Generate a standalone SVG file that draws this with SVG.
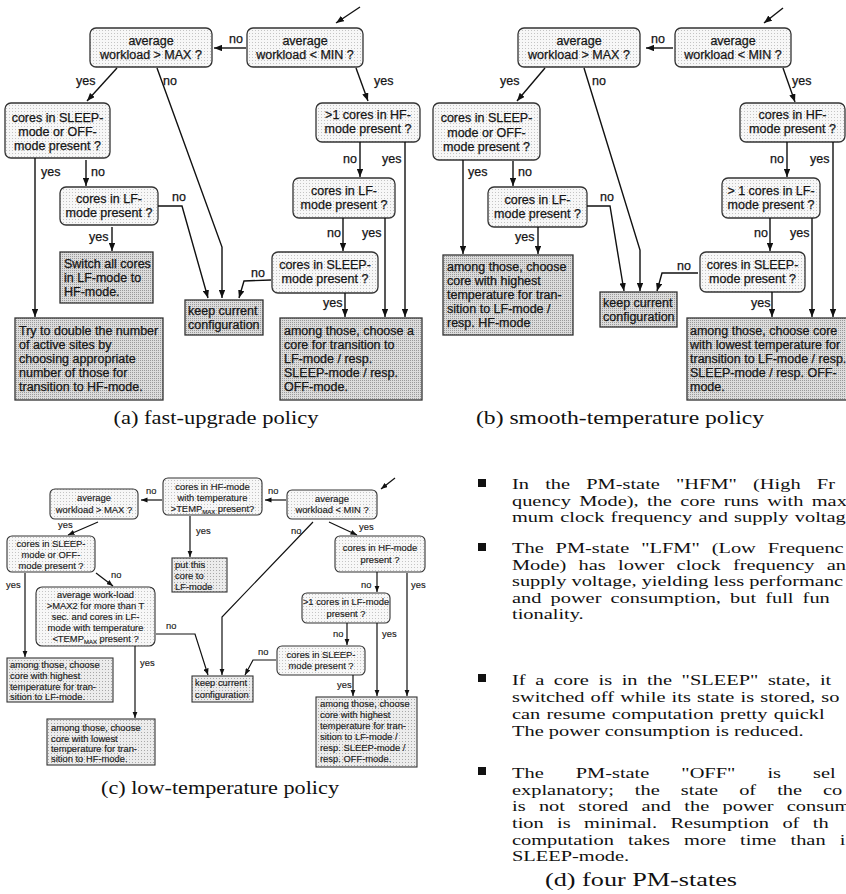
<svg xmlns="http://www.w3.org/2000/svg" width="846" height="894" viewBox="0 0 846 894">
<defs>
<style>
.q{fill:url(#pl);stroke:#333;stroke-width:1.3}
.a{fill:url(#pd);stroke:#333;stroke-width:1.3}
.qc{fill:url(#pl);stroke:#333;stroke-width:1.1}
.ac{fill:url(#pm);stroke:#333;stroke-width:1.1}
.t{font-family:"Liberation Sans",Arial,sans-serif;font-size:12.5px;fill:#151515;stroke:#151515;stroke-width:0.25}
.m{text-anchor:middle}
.tc{font-family:"Liberation Sans",Arial,sans-serif;font-size:9.4px;fill:#1a1a1a;stroke:#1a1a1a;stroke-width:0.15}
.e{fill:none;stroke:#111;stroke-width:1.4;marker-end:url(#ah)}
.ec{fill:none;stroke:#111;stroke-width:1.2;marker-end:url(#ahs)}
.cap{font-family:"Liberation Serif","Times New Roman",serif;font-size:18px;fill:#111;text-anchor:middle}
.d{font-family:"Liberation Serif","Times New Roman",serif;font-size:15px;fill:#111}
</style>
<pattern id="pl" width="3" height="3" patternUnits="userSpaceOnUse"><rect width="3" height="3" fill="#f7f7f7"/><rect width="1" height="1" fill="#c4c4c4"/></pattern>
<pattern id="pd" width="2" height="2" patternUnits="userSpaceOnUse"><rect width="2" height="2" fill="#dcdcdc"/><rect width="1" height="1" fill="#9a9a9a"/></pattern>
<pattern id="pm" width="3" height="3" patternUnits="userSpaceOnUse"><rect width="3" height="3" fill="#ececec"/><rect width="1" height="1" fill="#a8a8a8"/></pattern>
<marker id="ah" viewBox="0 0 10 8" refX="10" refY="4" markerWidth="8" markerHeight="6.4" orient="auto" markerUnits="userSpaceOnUse"><path d="M0,0 L10,4 L0,8 z" fill="#111"/></marker>
<marker id="ahs" viewBox="0 0 10 8" refX="10" refY="4" markerWidth="6.5" markerHeight="5.2" orient="auto" markerUnits="userSpaceOnUse"><path d="M0,0 L10,4 L0,8 z" fill="#111"/></marker>
</defs>
<rect width="846" height="894" fill="#fff"/>

<!-- (a) fast-upgrade policy -->
<g id="a-q0"><rect class="q" x="247" y="28" width="116" height="39" rx="6"/><text class="t m"><tspan x="305" y="45">average</tspan><tspan x="305" y="59">workload &lt; MIN ?</tspan></text></g>
<g id="a-q1"><rect class="q" x="90" y="28" width="122" height="39" rx="6"/><text class="t m"><tspan x="151" y="45">average</tspan><tspan x="151" y="59">workload &gt; MAX ?</tspan></text></g>
<g id="a-q2"><rect class="q" x="5" y="103" width="105" height="55" rx="6"/><text class="t m"><tspan x="57.5" y="122">cores in SLEEP-</tspan><tspan x="57.5" y="136">mode or OFF-</tspan><tspan x="57.5" y="150">mode present ?</tspan></text></g>
<g id="a-q3"><rect class="q" x="60" y="187" width="98" height="38" rx="6"/><text class="t m"><tspan x="109" y="203">cores in LF-</tspan><tspan x="109" y="217">mode present ?</tspan></text></g>
<g id="a-r1"><rect class="a" x="60" y="252" width="93" height="51"/><text class="t"><tspan x="64" y="268">Switch all cores</tspan><tspan x="64" y="282">in LF-mode to</tspan><tspan x="64" y="296">HF-mode.</tspan></text></g>
<g id="a-r2"><rect class="a" x="185" y="300" width="78" height="35"/><text class="t"><tspan x="188" y="315">keep current</tspan><tspan x="188" y="329">configuration</tspan></text></g>
<g id="a-r3"><rect class="a" x="15" y="318" width="148" height="82"/><text class="t"><tspan x="19" y="335">Try to double the number</tspan><tspan x="19" y="349">of active sites by</tspan><tspan x="19" y="363">choosing appropriate</tspan><tspan x="19" y="377">number of those for</tspan><tspan x="19" y="391">transition to HF-mode.</tspan></text></g>
<g id="a-q4"><rect class="q" x="316" y="103" width="104" height="39" rx="6"/><text class="t m"><tspan x="368" y="119">&gt;1 cores in HF-</tspan><tspan x="368" y="133">mode present ?</tspan></text></g>
<g id="a-q5"><rect class="q" x="293" y="178" width="102" height="40" rx="6"/><text class="t m"><tspan x="344" y="195">cores in LF-</tspan><tspan x="344" y="209">mode present ?</tspan></text></g>
<g id="a-q6"><rect class="q" x="272" y="252" width="106" height="41" rx="6"/><text class="t m"><tspan x="325" y="269">cores in SLEEP-</tspan><tspan x="325" y="283">mode present ?</tspan></text></g>
<g id="a-r4"><rect class="a" x="280" y="318" width="142" height="82"/><text class="t"><tspan x="284" y="335">among those, choose a</tspan><tspan x="284" y="349">core for transition to</tspan><tspan x="284" y="363">LF-mode / resp.</tspan><tspan x="284" y="377">SLEEP-mode / resp.</tspan><tspan x="284" y="391">OFF-mode.</tspan></text></g>

<!-- (b) smooth-temperature policy -->
<g id="b-q0"><rect class="q" x="675" y="28" width="116" height="39" rx="6"/><text class="t m"><tspan x="733" y="45">average</tspan><tspan x="733" y="59">workload &lt; MIN ?</tspan></text></g>
<g id="b-q1"><rect class="q" x="518" y="28" width="122" height="39" rx="6"/><text class="t m"><tspan x="579" y="45">average</tspan><tspan x="579" y="59">workload &gt; MAX ?</tspan></text></g>
<g id="b-q2"><rect class="q" x="433" y="103" width="107" height="57" rx="6"/><text class="t m"><tspan x="486.5" y="122">cores in SLEEP-</tspan><tspan x="486.5" y="137">mode or OFF-</tspan><tspan x="486.5" y="151">mode present ?</tspan></text></g>
<g id="b-q3"><rect class="q" x="488" y="187" width="99" height="40" rx="6"/><text class="t m"><tspan x="537.5" y="204">cores in LF-</tspan><tspan x="537.5" y="218">mode present ?</tspan></text></g>
<g id="b-r1"><rect class="a" x="443" y="255" width="130" height="80"/><text class="t"><tspan x="447" y="271">among those, choose</tspan><tspan x="447" y="285">core with highest</tspan><tspan x="447" y="299">temperature for tran-</tspan><tspan x="447" y="313">sition to LF-mode /</tspan><tspan x="447" y="327">resp. HF-mode</tspan></text></g>
<g id="b-r2"><rect class="a" x="600" y="292" width="77" height="35"/><text class="t"><tspan x="603" y="307">keep current</tspan><tspan x="603" y="321">configuration</tspan></text></g>
<g id="b-q4"><rect class="q" x="740" y="103" width="105" height="39" rx="6"/><text class="t m"><tspan x="792.5" y="119">cores in HF-</tspan><tspan x="792.5" y="133">mode present ?</tspan></text></g>
<g id="b-q5"><rect class="q" x="722" y="178" width="98" height="40" rx="6"/><text class="t m"><tspan x="771" y="195">&gt; 1 cores in LF-</tspan><tspan x="771" y="209">mode present ?</tspan></text></g>
<g id="b-q6"><rect class="q" x="700" y="252" width="105" height="40" rx="6"/><text class="t m"><tspan x="752.5" y="269">cores in SLEEP-</tspan><tspan x="752.5" y="283">mode present ?</tspan></text></g>
<g id="b-r3"><rect class="a" x="687" y="318" width="162" height="82"/><text class="t"><tspan x="690" y="335">among those, choose core</tspan><tspan x="690" y="349">with lowest temperature for</tspan><tspan x="690" y="363">transition to LF-mode / resp.</tspan><tspan x="690" y="377">SLEEP-mode / resp. OFF-</tspan><tspan x="690" y="391">mode.</tspan></text></g>

<!-- (c) low-temperature policy -->
<g id="c-q0"><rect class="qc" x="287" y="490" width="90" height="29" rx="5"/><text class="tc m"><tspan x="332" y="502">average</tspan><tspan x="332" y="513">workload &lt; MIN ?</tspan></text></g>
<g id="c-q7"><rect class="qc" x="163" y="478" width="99" height="37" rx="5"/><text class="tc m"><tspan x="212.5" y="490">cores in HF-mode</tspan><tspan x="212.5" y="501">with temperature</tspan></text><text class="tc m" x="212.5" y="512">&gt;TEMP<tspan font-size="6" dy="2">MAX</tspan><tspan dy="-2"> present?</tspan></text></g>
<g id="c-q1"><rect class="qc" x="50" y="489" width="88" height="30" rx="5"/><text class="tc m"><tspan x="94" y="501">average</tspan><tspan x="94" y="513">workload &gt; MAX ?</tspan></text></g>
<g id="c-r5"><rect class="ac" x="172" y="558" width="55" height="34"/><text class="tc"><tspan x="175" y="568">put this</tspan><tspan x="175" y="579">core to</tspan><tspan x="175" y="590">LF-mode</tspan></text></g>
<g id="c-q2"><rect class="qc" x="7" y="536" width="88" height="36" rx="5"/><text class="tc m"><tspan x="51" y="547">cores in SLEEP-</tspan><tspan x="51" y="558">mode or OFF-</tspan><tspan x="51" y="569">mode present ?</tspan></text></g>
<g id="c-q3"><rect class="qc" x="36" y="587" width="119" height="59" rx="6"/><text class="tc m"><tspan x="95.5" y="598">average work-load</tspan><tspan x="95.5" y="609">&gt;MAX2 for more than T</tspan><tspan x="95.5" y="620">sec. and cores in LF-</tspan><tspan x="95.5" y="631">mode with temperature</tspan></text><text class="tc m" x="95.5" y="642">&lt;TEMP<tspan font-size="6" dy="2">MAX</tspan><tspan dy="-2"> present ?</tspan></text></g>
<g id="c-r1"><rect class="ac" x="7" y="658" width="106" height="44"/><text class="tc"><tspan x="10" y="668">among those, choose</tspan><tspan x="10" y="679">core with highest</tspan><tspan x="10" y="690">temperature for tran-</tspan><tspan x="10" y="700">sition to LF-mode.</tspan></text></g>
<g id="c-r2"><rect class="ac" x="47" y="719" width="108" height="46"/><text class="tc"><tspan x="51" y="731">among those, choose</tspan><tspan x="51" y="742">core with lowest</tspan><tspan x="51" y="752">temperature for tran-</tspan><tspan x="51" y="762">sition to HF-mode.</tspan></text></g>
<g id="c-r6"><rect class="ac" x="192" y="676" width="61" height="26"/><text class="tc"><tspan x="195" y="686">keep current</tspan><tspan x="195" y="698">configuration</tspan></text></g>
<g id="c-q4"><rect class="qc" x="335" y="536" width="90" height="36" rx="5"/><text class="tc m"><tspan x="380" y="551">cores in HF-mode</tspan><tspan x="380" y="563">present ?</tspan></text></g>
<g id="c-q5"><rect class="qc" x="302" y="593" width="88" height="30" rx="5"/><text class="tc m"><tspan x="346" y="605">&gt;1 cores in LF-mode</tspan><tspan x="346" y="617">present ?</tspan></text></g>
<g id="c-q6"><rect class="qc" x="277" y="646" width="88" height="29" rx="5"/><text class="tc m"><tspan x="321" y="658">cores in SLEEP-</tspan><tspan x="321" y="669">mode present ?</tspan></text></g>
<g id="c-r4"><rect class="ac" x="316" y="697" width="101" height="70"/><text class="tc"><tspan x="320" y="707">among those, choose</tspan><tspan x="320" y="718">core with highest</tspan><tspan x="320" y="729">temperature for tran-</tspan><tspan x="320" y="740">sition to LF-mode /</tspan><tspan x="320" y="751">resp. SLEEP-mode /</tspan><tspan x="320" y="762">resp. OFF-mode.</tspan></text></g>

<!-- connectors -->
<g id="connectors">
<path class="e" d="M360,7 L336,23"/>
<path class="e" d="M246,48 L214,48"/>
<path class="e" d="M117,68 L87,101"/>
<path class="e" d="M157,68 L222,247 L222,298"/>
<path class="e" d="M356,68 L368,101"/>
<path class="e" d="M35,158 L35,317"/>
<path class="e" d="M86,160 L86,186"/>
<path class="e" d="M112,227 L112,251"/>
<path class="e" d="M158,206 L182,206 L208,298"/>
<path class="e" d="M271,280 L244,281 L239,298"/>
<path class="e" d="M360,142 L360,177"/>
<path class="e" d="M405,142 L405,317"/>
<path class="e" d="M343,218 L343,251"/>
<path class="e" d="M385,218 L385,317"/>
<path class="e" d="M345,293 L345,317"/>

<path class="e" d="M783,8 L764,23"/>
<path class="e" d="M673,48 L646,48"/>
<path class="e" d="M545,68 L517,101"/>
<path class="e" d="M584,68 L640,250 L640,291"/>
<path class="e" d="M783,68 L795,102"/>
<path class="e" d="M463,160 L463,254"/>
<path class="e" d="M513,161 L513,186"/>
<path class="e" d="M538,227 L538,254"/>
<path class="e" d="M587,206 L610,206 L624,291"/>
<path class="e" d="M698,273 L662,273 L657,291"/>
<path class="e" d="M787,142 L787,177"/>
<path class="e" d="M833,142 L833,317"/>
<path class="e" d="M770,218 L770,251"/>
<path class="e" d="M812,218 L812,317"/>
<path class="e" d="M772,292 L772,317"/>

<path class="ec" d="M395,478 L381,489"/>
<path class="ec" d="M286,500 L265,500"/>
<path class="ec" d="M162,500 L141,500"/>
<path class="ec" d="M190,516 L190,557"/>
<path class="ec" d="M98,522 L68,535"/>
<path class="ec" d="M96,573 L113,586"/>
<path class="ec" d="M25,573 L25,657"/>
<path class="ec" d="M156,634 L195,634 L208,675"/>
<path class="ec" d="M313,522 L222,617 L222,675"/>
<path class="ec" d="M329,522 L357,535"/>
<path class="ec" d="M135,646 L135,718"/>
<path class="ec" d="M377,572 L377,592"/>
<path class="ec" d="M407,573 L407,696"/>
<path class="ec" d="M347,623 L347,645"/>
<path class="ec" d="M377,623 L377,696"/>
<path class="ec" d="M276,660 L253,660 L245,675"/>
<path class="ec" d="M353,675 L353,696"/>
</g>

<g id="edge-labels">
<text class="t" x="229" y="43">no</text>
<text class="t" x="76" y="85">yes</text>
<text class="t" x="163" y="85">no</text>
<text class="t" x="374" y="85">yes</text>
<text class="t" x="41" y="176">yes</text>
<text class="t" x="91" y="176">no</text>
<text class="t" x="89" y="241">yes</text>
<text class="t" x="172" y="201">no</text>
<text class="t" x="251" y="277">no</text>
<text class="t" x="343" y="163">no</text>
<text class="t" x="382" y="163">yes</text>
<text class="t" x="327" y="237">no</text>
<text class="t" x="362" y="237">yes</text>
<text class="t" x="323" y="307">yes</text>

<text class="t" x="651" y="43">no</text>
<text class="t" x="500" y="85">yes</text>
<text class="t" x="592" y="85">no</text>
<text class="t" x="792" y="85">yes</text>
<text class="t" x="468" y="176">yes</text>
<text class="t" x="518" y="176">no</text>
<text class="t" x="515" y="241">yes</text>
<text class="t" x="600" y="201">no</text>
<text class="t" x="677" y="270">no</text>
<text class="t" x="770" y="163">no</text>
<text class="t" x="810" y="163">yes</text>
<text class="t" x="754" y="237">no</text>
<text class="t" x="790" y="237">yes</text>
<text class="t" x="751" y="307">yes</text>

<text class="tc" x="268" y="494">no</text>
<text class="tc" x="146" y="494">no</text>
<text class="tc" x="196" y="534">yes</text>
<text class="tc" x="58" y="528">yes</text>
<text class="tc" x="111" y="578">no</text>
<text class="tc" x="6" y="588">yes</text>
<text class="tc" x="166" y="629">no</text>
<text class="tc" x="291" y="534">no</text>
<text class="tc" x="359" y="530">yes</text>
<text class="tc" x="140" y="666">yes</text>
<text class="tc" x="361" y="588">no</text>
<text class="tc" x="411" y="588">yes</text>
<text class="tc" x="333" y="637">no</text>
<text class="tc" x="382" y="637">yes</text>
<text class="tc" x="258" y="655">no</text>
<text class="tc" x="337" y="688">yes</text>
</g>

<!-- captions -->
<g id="captions">
<text class="cap" x="216" y="424" textLength="205" lengthAdjust="spacingAndGlyphs">(a) fast-upgrade policy</text>
<text class="cap" x="620" y="424" textLength="288" lengthAdjust="spacingAndGlyphs">(b) smooth-temperature policy</text>
<text class="cap" x="220" y="794" textLength="238" lengthAdjust="spacingAndGlyphs">(c) low-temperature policy</text>
<text class="cap" x="641" y="886" textLength="192" lengthAdjust="spacingAndGlyphs">(d) four PM-states</text>
</g>

<!-- (d) four PM-states -->
<g id="d-bullets" fill="#111">
<rect x="478" y="479" width="8" height="8"/>
<rect x="478" y="543" width="8" height="8"/>
<rect x="478" y="674" width="8" height="8"/>
<rect x="478" y="767" width="8" height="8"/>
</g>
<g id="d-text" transform="scale(1.36,1)">
<text class="d" x="376.47" y="489" word-spacing="8.16">In the PM-state "HFM" (High Fr</text>
<text class="d" x="376.47" y="506" word-spacing="2.4">quency Mode), the core runs with max</text>
<text class="d" x="376.47" y="522" word-spacing="0.88">mum clock frequency and supply voltag</text>
<text class="d" x="376.47" y="553" word-spacing="5.04">The PM-state "LFM" (Low Frequenc</text>
<text class="d" x="376.47" y="570" word-spacing="5.25">Mode) has lower clock frequency an</text>
<text class="d" x="376.47" y="586">supply voltage, yielding less performanc</text>
<text class="d" x="376.47" y="603" word-spacing="2.94">and power consumption, but full fun</text>
<text class="d" x="376.47" y="619">tionality.</text>
<text class="d" x="376.47" y="685" word-spacing="3.31">If a core is in the "SLEEP" state, it</text>
<text class="d" x="376.47" y="702" word-spacing="0.78">switched off while its state is stored, so</text>
<text class="d" x="376.47" y="719" word-spacing="0.88">can resume computation pretty quickl</text>
<text class="d" x="376.47" y="736">The power consumption is reduced.</text>
<text class="d" x="376.47" y="778" word-spacing="19.8">The PM-state "OFF" is sel</text>
<text class="d" x="376.47" y="795" word-spacing="11.7">explanatory; the state of the co</text>
<text class="d" x="376.47" y="811" word-spacing="6.07">is not stored and the power consum</text>
<text class="d" x="376.47" y="828" word-spacing="6.1">tion is minimal. Resumption of th</text>
<text class="d" x="376.47" y="845" word-spacing="6.66">computation takes more time than i</text>
<text class="d" x="376.47" y="861">SLEEP-mode.</text>
</g>
</svg>
